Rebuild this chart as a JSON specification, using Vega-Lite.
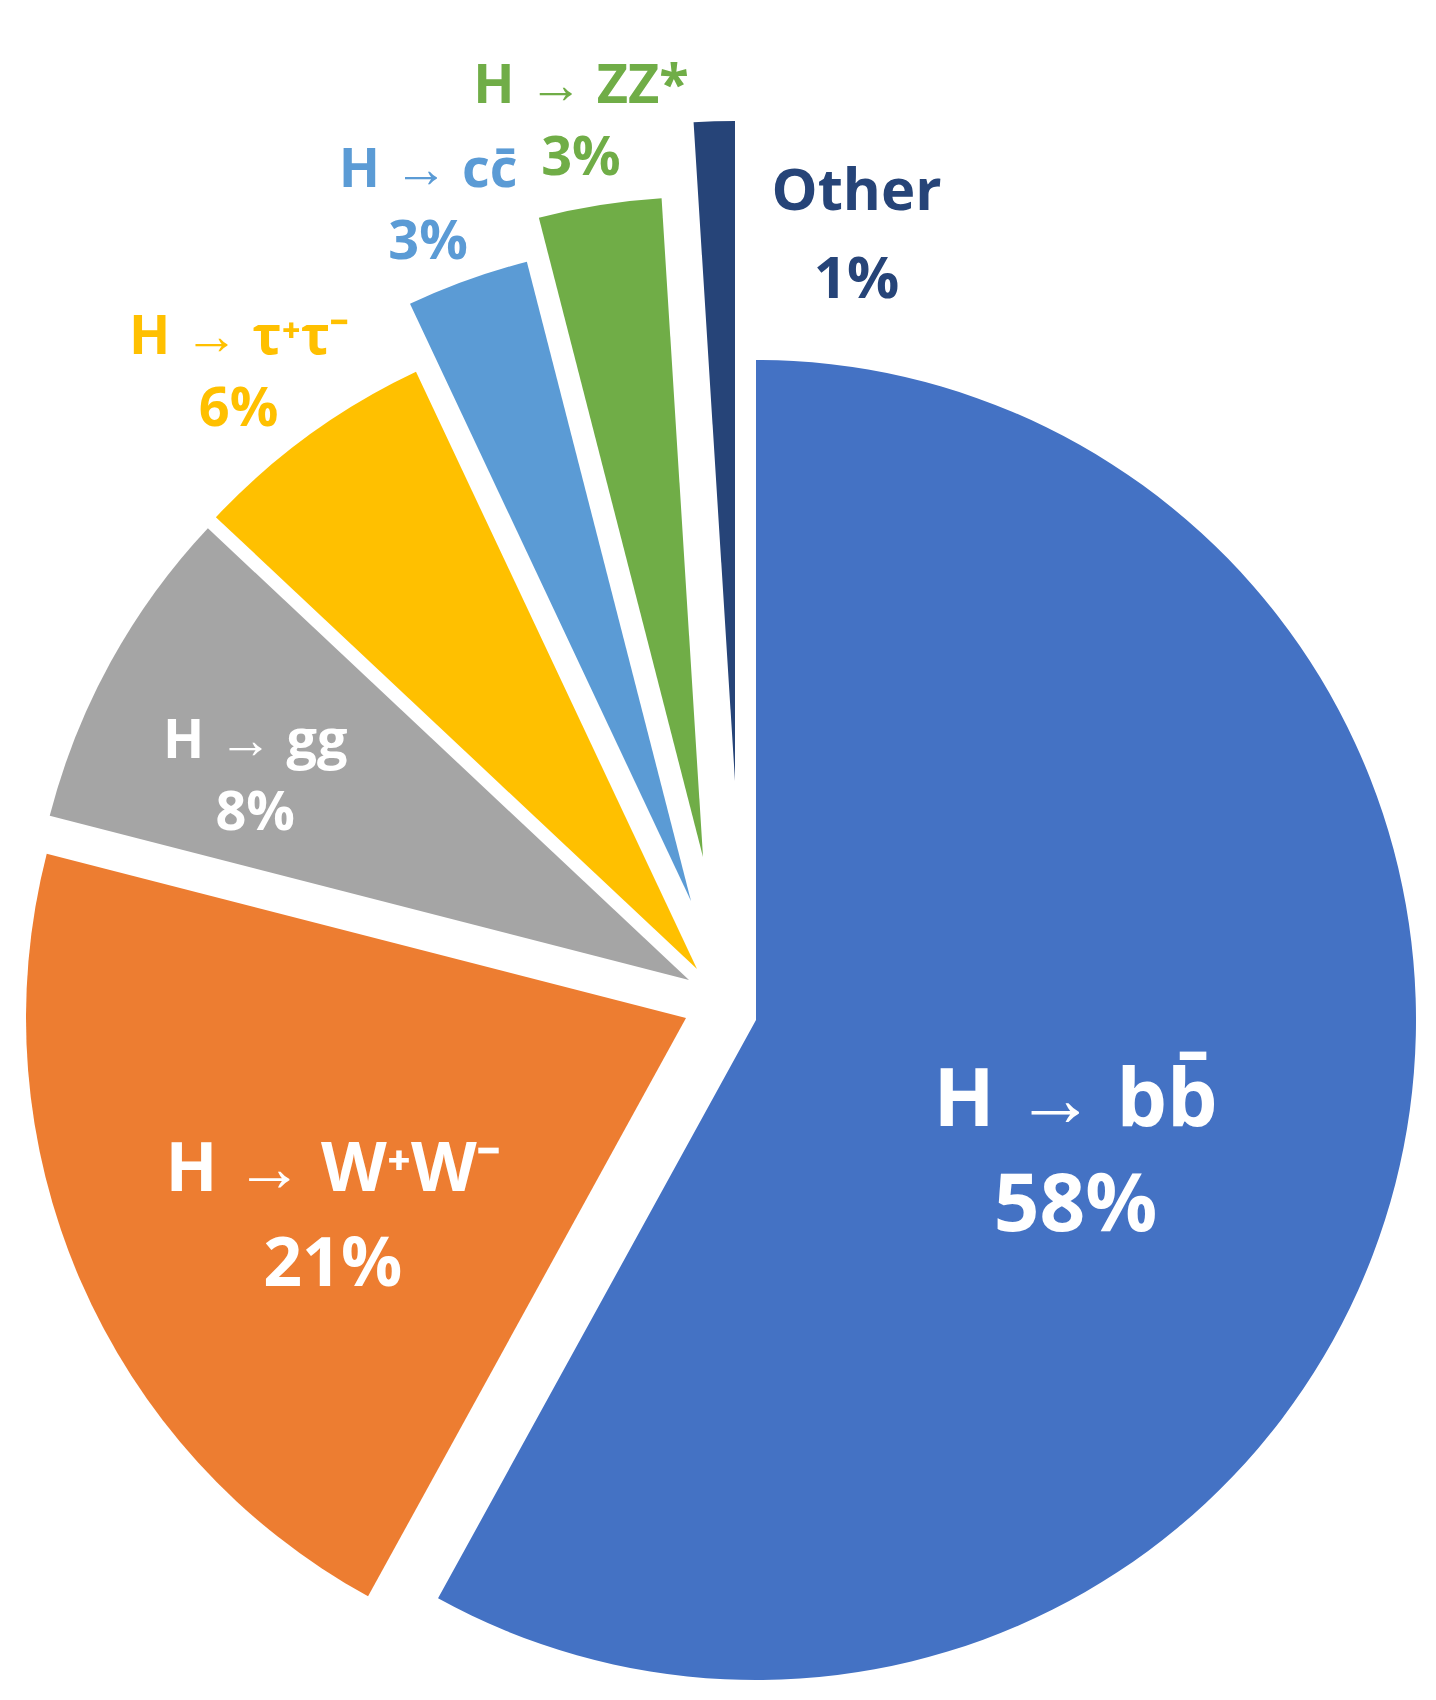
{
"$schema":"https://vega.github.io/schema/vega-lite/v6.json",
"width":1436,"height":1700,"autosize":"none","padding":0,
"background":"white",
"data":{"values":[
{"cat":"bb","label":"H → bb̄\n58%","value":58,"order":1},
{"cat":"WW","label":"H → W⁺W⁻\n21%","value":21,"order":2},
{"cat":"gg","label":"H → gg\n8%","value":8,"order":3},
{"cat":"tau","label":"H → τ⁺τ⁻\n6%","value":6,"order":4},
{"cat":"cc","label":"H → cc̄\n3%","value":3,"order":5},
{"cat":"ZZ","label":"H → ZZ*\n3%","value":3,"order":6},
{"cat":"other","label":"Other\n1%","value":1,"order":7}
]},
"transform":[
{"window":[{"op":"sum","field":"value","as":"end"}],"sort":[{"field":"order"}],"frame":[null,0]},
{"calculate":"datum.end - datum.value","as":"start"},
{"calculate":"(datum.end + datum.start)/2","as":"mid"}
],
"layer":[
{"transform":[{"filter":"datum.cat=='bb'"}],"mark":{"type":"arc","radius":660,"xOffset":38,"yOffset":170,"color":"#4472C4"},"encoding":{"theta":{"field":"start","type":"quantitative","scale":{"domain":[0,100]}},"theta2":{"field":"end"}}},
{"transform":[{"filter":"datum.cat=='WW'"}],"mark":{"type":"arc","radius":660,"xOffset":-32,"yOffset":168,"color":"#ED7D31"},"encoding":{"theta":{"field":"start","type":"quantitative","scale":{"domain":[0,100]}},"theta2":{"field":"end"}}},
{"transform":[{"filter":"datum.cat=='gg'"}],"mark":{"type":"arc","radius":660,"xOffset":-29,"yOffset":130,"color":"#A5A5A5"},"encoding":{"theta":{"field":"start","type":"quantitative","scale":{"domain":[0,100]}},"theta2":{"field":"end"}}},
{"transform":[{"filter":"datum.cat=='tau'"}],"mark":{"type":"arc","radius":660,"xOffset":-21,"yOffset":119,"color":"#FFC000"},"encoding":{"theta":{"field":"start","type":"quantitative","scale":{"domain":[0,100]}},"theta2":{"field":"end"}}},
{"transform":[{"filter":"datum.cat=='cc'"}],"mark":{"type":"arc","radius":660,"xOffset":-27,"yOffset":51,"color":"#5B9BD5"},"encoding":{"theta":{"field":"start","type":"quantitative","scale":{"domain":[0,100]}},"theta2":{"field":"end"}}},
{"transform":[{"filter":"datum.cat=='ZZ'"}],"mark":{"type":"arc","radius":660,"xOffset":-15,"yOffset":7,"color":"#70AD47"},"encoding":{"theta":{"field":"start","type":"quantitative","scale":{"domain":[0,100]}},"theta2":{"field":"end"}}},
{"transform":[{"filter":"datum.cat=='other'"}],"mark":{"type":"arc","radius":660,"xOffset":17,"yOffset":-69,"color":"#264478"},"encoding":{"theta":{"field":"start","type":"quantitative","scale":{"domain":[0,100]}},"theta2":{"field":"end"}}},
{"transform":[{"filter":"datum.cat=='bb'"}],"mark":{"type":"text","radius":330,"xOffset":38,"yOffset":170,"color":"white","font":"Open Sans","fontWeight":"bold","fontSize":80,"lineBreak":"\n","lineHeight":105,"align":"center","baseline":"middle"},"encoding":{"theta":{"field":"mid","type":"quantitative","scale":{"domain":[0,100]}},"text":{"field":"label"}}},
{"transform":[{"filter":"datum.cat=='WW'"}],"mark":{"type":"text","radius":385,"xOffset":-32,"yOffset":168,"color":"white","font":"Open Sans","fontWeight":"bold","fontSize":68,"lineBreak":"\n","lineHeight":95,"align":"center","baseline":"middle"},"encoding":{"theta":{"field":"mid","type":"quantitative","scale":{"domain":[0,100]}},"text":{"field":"label"}}},
{"transform":[{"filter":"datum.cat=='gg'"}],"mark":{"type":"text","radius":495,"xOffset":-29,"yOffset":130,"color":"white","font":"Open Sans","fontWeight":"bold","fontSize":54,"lineBreak":"\n","lineHeight":72,"align":"center","baseline":"middle"},"encoding":{"theta":{"field":"mid","type":"quantitative","scale":{"domain":[0,100]}},"text":{"field":"label"}}},
{"transform":[{"filter":"datum.cat=='tau'"}],"mark":{"type":"text","radius":780,"xOffset":-21,"yOffset":119,"color":"#FFC000","font":"Open Sans","fontWeight":"bold","fontSize":54,"lineBreak":"\n","lineHeight":72,"align":"center","baseline":"middle"},"encoding":{"theta":{"field":"mid","type":"quantitative","scale":{"domain":[0,100]}},"text":{"field":"label"}}},
{"transform":[{"filter":"datum.cat=='cc'"}],"mark":{"type":"text","radius":776,"xOffset":-27,"yOffset":51,"color":"#5B9BD5","font":"Open Sans","fontWeight":"bold","fontSize":54,"lineBreak":"\n","lineHeight":72,"align":"center","baseline":"middle"},"encoding":{"theta":{"field":"mid","type":"quantitative","scale":{"domain":[0,100]}},"text":{"field":"label"}}},
{"transform":[{"filter":"datum.cat=='ZZ'"}],"mark":{"type":"text","radius":780,"xOffset":-15,"yOffset":7,"color":"#70AD47","font":"Open Sans","fontWeight":"bold","fontSize":54,"lineBreak":"\n","lineHeight":72,"align":"center","baseline":"middle"},"encoding":{"theta":{"field":"mid","type":"quantitative","scale":{"domain":[0,100]}},"text":{"field":"label"}}},
{"transform":[{"filter":"datum.cat=='other'"}],"mark":{"type":"text","radius":600,"xOffset":17,"yOffset":-69,"color":"#264478","font":"Open Sans","fontWeight":"bold","fontSize":58,"lineBreak":"\n","lineHeight":88,"align":"center","baseline":"middle"},"encoding":{"theta":{"value":0.204},"text":{"field":"label"}}}
]
}
